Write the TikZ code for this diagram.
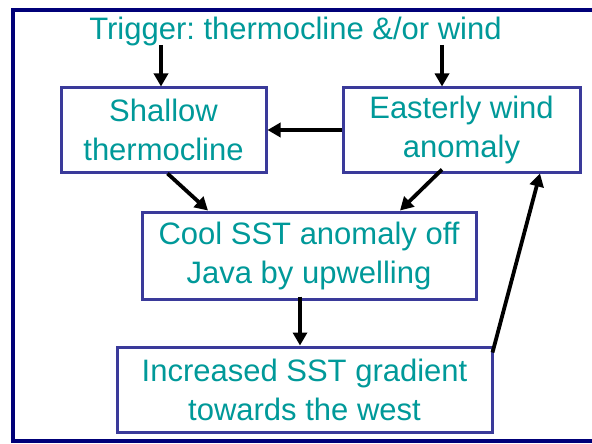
\documentclass[tikz,border=0pt]{standalone}
\usepackage{fontspec}
\setmainfont{Liberation Sans}
\usetikzlibrary{arrows.meta,calc}
\definecolor{tealtxt}{RGB}{0,153,153}
\definecolor{boxline}{RGB}{58,58,154}
\definecolor{frameline}{RGB}{0,0,120}
\tikzset{
  box/.style={draw=boxline, line width=3pt, text=tealtxt, align=center, inner sep=0pt,
    font=\fontsize{31}{39}\selectfont\frenchspacing},
  arr/.style={draw=black, line width=3.8pt, -{Triangle[length=13pt,width=14pt]}},
}
\begin{document}
\begin{tikzpicture}[x=1pt,y=-1pt]
\useasboundingbox (0,0) rectangle (592,444);
\draw[frameline, line width=4.5pt] (600,10) -- (13,10) -- (13,441) -- (600,441);
\node[text=tealtxt, font=\fontsize{31}{36}\selectfont\frenchspacing, inner sep=0pt, anchor=base] (trigger) at (295.5,40) {Trigger: thermocline \&/or wind};
\coordinate (trigbot) at (295.5,45);
\node[box, minimum width=205pt, minimum height=84pt] (shallow) at (163.5,130) {Shallow\\thermocline};
\node[box, minimum width=237pt, minimum height=84pt] (easterly) at (461.5,130) {Easterly wind\\anomaly};
\node[box, minimum width=334pt, minimum height=87pt] (cool) at (309,255.5) {Cool SST anomaly off\\Java by upwelling};
\node[box, minimum width=375pt, minimum height=85pt] (incr) at (304.5,389.5) {Increased SST gradient\\towards the west};
\draw[arr] ([xshift=-2.5pt]trigbot -| shallow.north) -- ([xshift=-2.5pt]shallow.north);
\draw[arr] ([xshift=-19.5pt]trigbot -| easterly.north) -- ([xshift=-19.5pt]easterly.north);
\draw[arr] (easterly.west) -- (shallow.east);
\draw[arr] ([xshift=4pt]shallow.south) -- ([xshift=-101pt]cool.north);
\draw[arr] ([xshift=-19.5pt,yshift=4pt]easterly.south) -- ([xshift=91pt]cool.north);
\draw[arr] ([xshift=-9pt,yshift=4pt]cool.south) -- ([xshift=-4.5pt]incr.north);
\draw[arr] ([xshift=-1pt,yshift=-7pt]incr.north east) -- ([xshift=78.5pt]easterly.south);
\end{tikzpicture}
\end{document}
